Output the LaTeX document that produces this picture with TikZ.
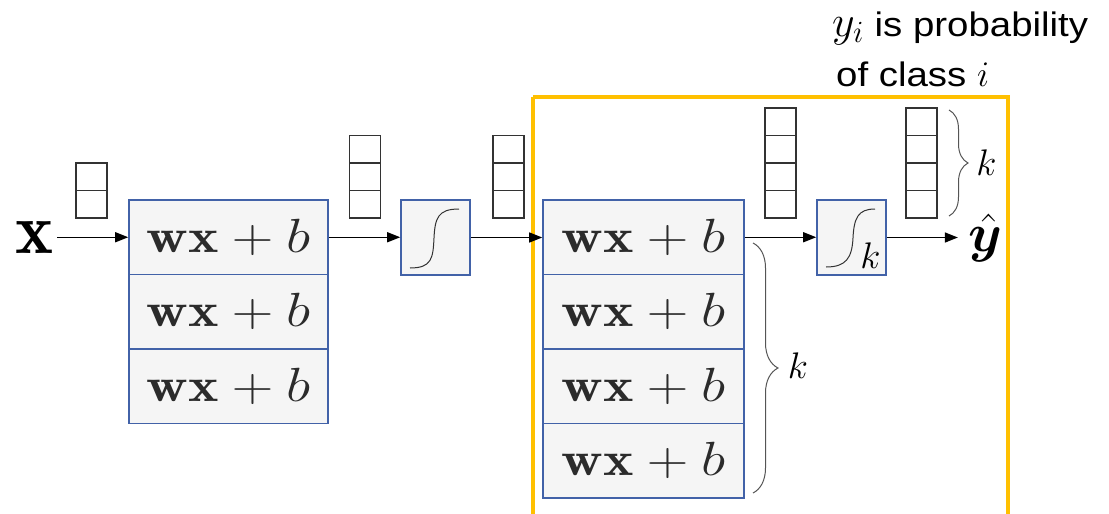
\RequirePackage{fix-cm}
\documentclass[tikz,border=0pt]{standalone}
\usepackage{amsmath,bm}
\usepackage{graphicx}
\usepackage{fontspec}
\newfontfamily\notefont[FakeStretch=1.13]{Liberation Sans}
\usetikzlibrary{arrows.meta,decorations.pathreplacing}
\definecolor{boxblue}{HTML}{4262A8}
\definecolor{boxfill}{HTML}{F5F5F5}
\definecolor{textgray}{HTML}{2B2B2B}
\definecolor{cellgray}{HTML}{333333}
\definecolor{curvegray}{HTML}{333333}
\definecolor{bracegray}{HTML}{555555}
\definecolor{frameorange}{HTML}{FFC000}
\newcommand{\wxb}{\scalebox{1.2}[1]{$\mathbf{wx}+b$}}
\tikzset{
  unitbox/.style={draw=boxblue, fill=boxfill, line width=1.6pt, minimum width=#1, minimum height=74.5pt, inner sep=0pt, text=textgray, font=\fontsize{48}{56}\selectfont},
  actbox/.style={draw=boxblue, fill=boxfill, line width=1.6pt, minimum width=69pt, minimum height=75pt, inner sep=0pt},
  cell/.style={draw=cellgray, fill=white, line width=1.2pt, minimum width=31pt, minimum height=27.5pt, inner sep=0pt},
  flow/.style={line width=1.5pt, -{Triangle[length=13pt,width=10pt]}},
  scurve/.style={draw=curvegray, line width=1pt},
  kbrace/.style={decorate, decoration={brace, amplitude=#1}, draw=bracegray, line width=1pt},
  softframe/.style={draw=frameorange, line width=4pt},
  note/.style={font=\notefont\fontsize{34}{40}\selectfont, inner sep=0pt},
  klabel/.style={inner sep=0pt, font=\fontsize{37}{40}\selectfont},
}
\begin{document}
\begin{tikzpicture}[x=1pt,y=-1pt]
\useasboundingbox (0,0) rectangle (1109,514);
\clip (0,0) rectangle (1109,514);
% output frame
\draw[softframe] (533,96.5) -- (1008,96.5) -- (1008,540) (533,96.5) -- (533,540);
% note
\node[note, anchor=base west] (t1) at (832,36) {{\fontsize{44}{44}\selectfont$y_i$} is probability};
\node[note, anchor=base west] (t2) at (836,86) {of class {\fontsize{36}{40}\selectfont$i$}};
% input
\node[inner sep=3pt, font=\fontsize{72}{72}\selectfont] (xin) at (35,237.25) {$\mathbf{x}$};
% first layer
\node[unitbox=199pt] (b1a) at (228.5,237.25) {\wxb};
\node[unitbox=199pt] (b1b) at (228.5,311.75) {\wxb};
\node[unitbox=199pt] (b1c) at (228.5,386.25) {\wxb};
% sigmoid
\node[actbox] (sig) at (435.5,237.5) {};
\draw[scurve] (410,268) .. controls (432,268) and (433,258) .. (434,238) .. controls (435,218) and (438,209) .. (459,209);
% second layer
\node[unitbox=201pt] (b2a) at (643.5,237.25) {\wxb};
\node[unitbox=201pt] (b2b) at (643.5,311.75) {\wxb};
\node[unitbox=201pt] (b2c) at (643.5,386.25) {\wxb};
\node[unitbox=201pt] (b2d) at (643.5,460.75) {\wxb};
% softmax
\node[actbox] (sm) at (851.5,237.5) {};
\draw[scurve] (826,267) .. controls (846,267) and (852,258) .. (853,238) .. controls (854,218) and (858,209) .. (875,209);
\node[klabel, anchor=base] (ksm) at (870.5,268) {$k$};
% output
\node[inner sep=0pt, font=\fontsize{54}{54}\selectfont] (yhat) at (985,238) {$\bm{\hat{y}}$};
% vectors
\node[cell] (v1a) at (91.5,176.75) {};
\node[cell] (v1b) at (91.5,204.25) {};
\node[cell] (v2a) at (365,149.25) {};
\node[cell] (v2b) at (365,176.75) {};
\node[cell] (v2c) at (365,204.25) {};
\node[cell] (v3a) at (508.5,149.25) {};
\node[cell] (v3b) at (508.5,176.75) {};
\node[cell] (v3c) at (508.5,204.25) {};
\node[cell] (v4a) at (780.5,121.75) {};
\node[cell] (v4b) at (780.5,149.25) {};
\node[cell] (v4c) at (780.5,176.75) {};
\node[cell] (v4d) at (780.5,204.25) {};
\node[cell] (v5a) at (921.5,121.75) {};
\node[cell] (v5b) at (921.5,149.25) {};
\node[cell] (v5c) at (921.5,176.75) {};
\node[cell] (v5d) at (921.5,204.25) {};
% arrows
\draw[flow] (xin.east) -- (xin.east -| b1a.west);
\draw[flow] (b1a.east) -- (b1a.east -| sig.west);
\draw[flow] (sig.east) -- (sig.east -| b2a.west);
\draw[flow] (b2a.east) -- (b2a.east -| sm.west);
\draw[flow] (sm.east) -- ([xshift=-10pt]sm.east -| yhat.west);
% braces
\coordinate (br1t) at (949,110);
\coordinate (br1b) at (949,216);
\draw[kbrace=19pt] (br1t) -- (br1b);
\node[klabel, anchor=base] (k1) at (986.5,175) {$k$};
\coordinate (br2t) at (753,243);
\coordinate (br2b) at (753,493);
\draw[kbrace=25pt] (br2t) -- (br2b);
\node[klabel, anchor=base] (k2) at (798,378) {$k$};
\end{tikzpicture}
\end{document}
